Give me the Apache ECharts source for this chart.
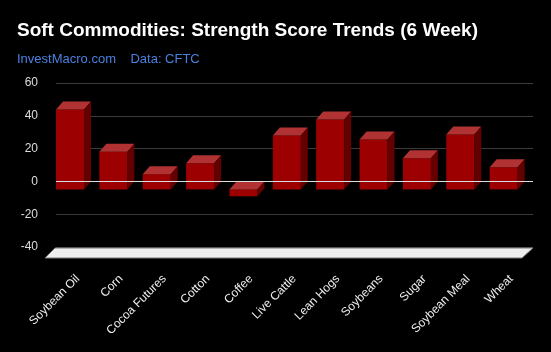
<!DOCTYPE html>
<html>
<head>
<meta charset="utf-8">
<script src="https://cdn.jsdelivr.net/npm/echarts@6/dist/echarts.min.js"></script>
<style>
  html, body { margin: 0; padding: 0; background: #000; }
  #chart { width: 551px; height: 352px; }
</style>
</head>
<body>
<div id="chart"></div>
<script>
  var categories = ['Soybean Oil', 'Corn', 'Cocoa Futures', 'Cotton', 'Coffee', 'Live Cattle',
                    'Lean Hogs', 'Soybeans', 'Sugar', 'Soybean Meal', 'Wheat'];
  var scores = [48.7, 23.0, 9.3, 15.9, -4.2, 32.9, 42.6, 30.5, 19.0, 33.5, 13.5];
  var yTicks = [-40, -20, 0, 20, 40, 60];

  var GRID_LEFT = 56, GRID_RIGHT = 18, GRID_TOP = 83, GRID_BOTTOM = 105;
  var DX = 7, DY = 8;   // 3d depth of the bars

  var chart = echarts.init(document.getElementById('chart'));

  // a bar = front face + top face + right side, the back face sits on the axis
  function renderBar(params, api) {
    var idx = api.value(0);
    var top = api.coord([idx, api.value(1)]);
    var base = api.coord([idx, 0]);
    var band = api.size([1, 0])[0];
    var bs = top[0] - band / 2;
    var w = band * 0.646;
    var y1 = Math.min(top[1], base[1]);
    var y2 = Math.max(top[1], base[1]);
    return {
      type: 'group',
      children: [{
        type: 'rect',
        shape: { x: bs, y: y1 + DY, width: w, height: y2 - y1 },
        style: { fill: '#9c0000' }
      }, {
        type: 'polygon',
        shape: { points: [[bs, y1 + DY], [bs + w, y1 + DY], [bs + w + DX, y1], [bs + DX, y1]] },
        style: { fill: '#b03232' }
      }, {
        type: 'polygon',
        shape: { points: [[bs + w, y1 + DY], [bs + w + DX, y1], [bs + w + DX, y2], [bs + w, y2 + DY]] },
        style: { fill: '#630000' }
      }]
    };
  }

  var option = {
    backgroundColor: '#000',
    animation: false,
    title: {
      text: 'Soft Commodities: Strength Score Trends (6 Week)',
      subtext: 'InvestMacro.com    Data: CFTC',
      left: 12,
      top: 16,
      itemGap: 13,
      textStyle: { color: '#fff', fontSize: 19, fontWeight: 'bold', fontFamily: 'Liberation Sans' },
      subtextStyle: { color: '#4a80e0', fontSize: 13, fontFamily: 'Liberation Sans' }
    },
    grid: { left: GRID_LEFT, right: GRID_RIGHT, top: GRID_TOP, bottom: GRID_BOTTOM },
    xAxis: {
      type: 'category',
      data: categories,
      axisLine: { show: false },
      axisTick: { show: false },
      axisLabel: {
        interval: 0,
        rotate: 45,
        margin: 30,
        color: '#eee',
        fontSize: 12,
        fontFamily: 'Liberation Sans'
      }
    },
    yAxis: {
      type: 'value',
      min: yTicks[0],
      max: yTicks[yTicks.length - 1],
      interval: 20,
      axisLine: { show: false },
      axisTick: { show: false },
      axisLabel: { color: '#ddd', fontSize: 12, margin: 18, fontFamily: 'Liberation Sans' },
      splitLine: { lineStyle: { color: '#3a3a3a', width: 1 } }
    },
    series: [{
      type: 'custom',
      renderItem: renderBar,
      data: scores.map(function (v, i) { return [i, v]; }),
      markLine: {
        silent: true,
        symbol: 'none',
        label: { show: false },
        lineStyle: { color: '#ddd', width: 1, type: 'solid' },
        data: [{ yAxis: 0 }]
      }
    }]
  };
  chart.setOption(option);

  // white floor slab at the bottom of the plot
  var yb = chart.convertToPixel({ yAxisIndex: 0 }, yTicks[0]);
  var L = GRID_LEFT, R = 551 - GRID_RIGHT;
  chart.setOption({
    graphic: [{
      type: 'polygon',
      z: 1,
      shape: { points: [[L - 1, yb + 1], [R, yb + 1], [R - 11, yb + 11], [L - 11, yb + 11]] },
      style: { fill: '#eeeeee', stroke: '#777', lineWidth: 1 }
    }]
  });
</script>
</body>
</html>
